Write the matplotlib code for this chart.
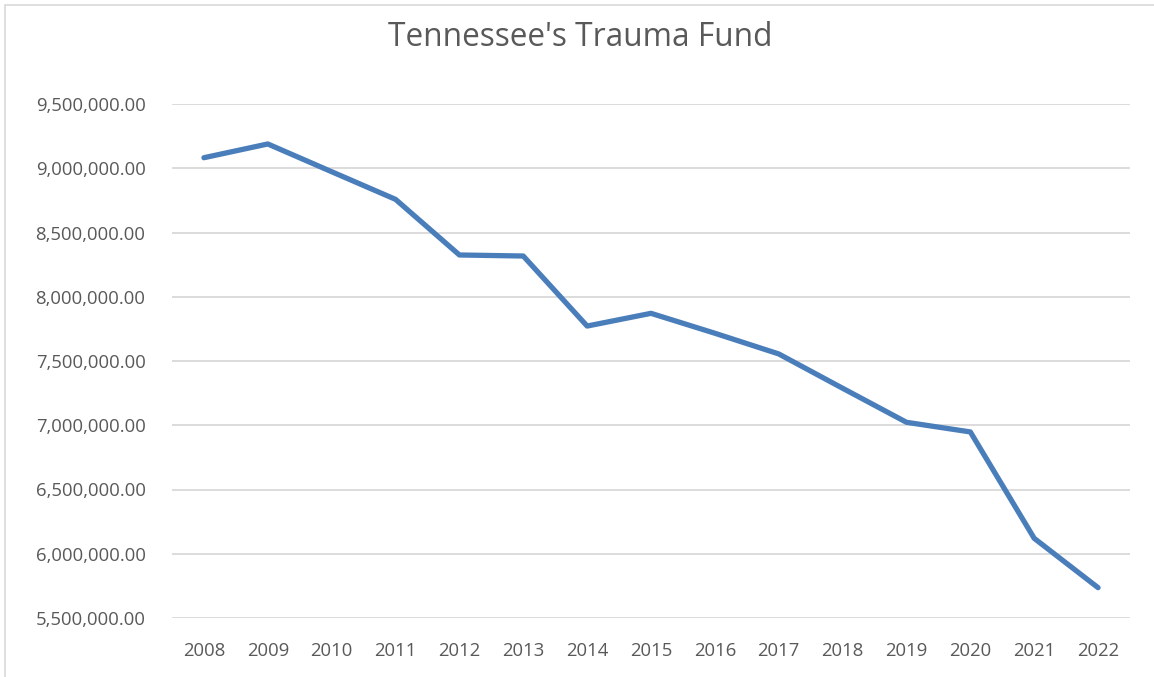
import matplotlib
matplotlib.use("Agg")
import matplotlib.pyplot as plt
from matplotlib.ticker import FuncFormatter
from matplotlib.patches import Rectangle

years = [2008, 2009, 2010, 2011, 2012, 2013, 2014, 2015, 2016, 2017, 2018, 2019, 2020, 2021, 2022]
fund = [9082000, 9189000, 8973000, 8758000, 8325000, 8317000, 7772000, 7871000,
        7716000, 7555000, 7288000, 7023000, 6948000, 6120000, 5736000]
title = "Tennessee's Trauma Fund"
y_ticks = [5500000, 6000000, 6500000, 7000000, 7500000, 8000000, 8500000, 9000000, 9500000]

plt.rcParams['font.family'] = ['Open Sans', 'DejaVu Sans']

W, H = 1154, 677
fig = plt.figure(figsize=(W / 100, H / 100), dpi=100)
fig.patch.set_facecolor('white')

# chart border
fig.add_artist(Rectangle((5 / W, -0.05), 1.2, 1 - 5 / H + 0.05, transform=fig.transFigure,
                         fill=False, edgecolor='#D9D9D9', linewidth=1.2))

ax = fig.add_axes([172 / W, 1 - 618 / H, (1130 - 172) / W, (618 - 104) / H])
x = list(range(len(years)))
ax.plot(x, fund, color='#4A7EBB', linewidth=3.8, solid_capstyle='round', solid_joinstyle='round', zorder=3)

ax.set_xlim(-0.5, len(years) - 0.5)
ax.set_ylim(5500000, 9500000)
ax.set_yticks(y_ticks)
ax.yaxis.set_major_formatter(FuncFormatter(lambda v, p: f"{v:,.2f}"))
ax.set_xticks(x)
ax.set_xticklabels([str(y) for y in years])
ax.grid(axis='y', color='#D9D9D9', linewidth=1.3, zorder=0)
ax.set_axisbelow(True)
for s in ax.spines.values():
    s.set_visible(False)
ax.tick_params(axis='both', length=0, labelsize=13.3, colors='#595959')
ax.tick_params(axis='y', pad=19)
ax.tick_params(axis='x', pad=17)

fig.text(580 / W, 1 - 37 / H, title, ha='center', va='center',
         fontsize=22.8, color='#595959')

fig.savefig('out.png', dpi=100, facecolor='white')
